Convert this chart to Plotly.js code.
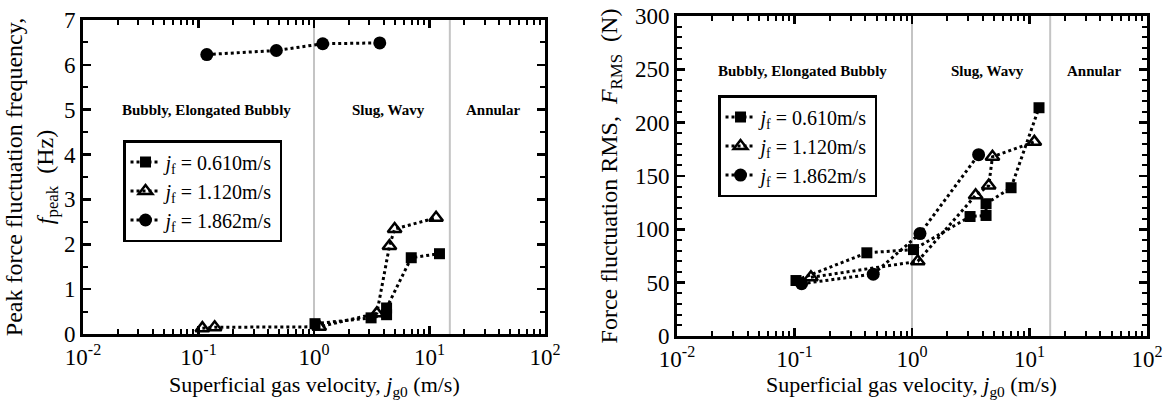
<!DOCTYPE html>
<html>
<head>
<meta charset="utf-8">
<script src="https://cdn.plot.ly/plotly-3.0.1.min.js"></script>
<style>html,body{margin:0;padding:0;background:#fff;}#chart{width:1166px;height:400px;}</style>
</head>
<body>
<div id="chart"></div>
<script>
// ---- data: left panel (peak frequency, Hz) ----
const freqSq_x = [1.02, 3.12, 4.25, 4.25, 6.95, 12.2];
const freqSq_y = [0.23, 0.36, 0.43, 0.58, 1.70, 1.79];
const freqTri_x = [0.108, 0.138, 1.11, 3.5, 4.5, 4.99, 11.4];
const freqTri_y = [0.13, 0.15, 0.16, 0.46, 1.96, 2.34, 2.59];
const freqCir_x = [0.118, 0.472, 1.19, 3.71];
const freqCir_y = [6.23, 6.32, 6.47, 6.49];
// ---- data: right panel (force RMS, N) ----
const rmsSq_x = [0.103, 0.413, 1.03, 3.12, 4.27, 4.27, 6.97, 12.05];
const rmsSq_y = [52, 78, 81, 112, 113, 124, 139, 214];
const rmsTri_x = [0.138, 1.12, 3.48, 4.5, 4.84, 11.0];
const rmsTri_y = [55, 70, 132, 141, 168, 182];
const rmsCir_x = [0.115, 0.468, 1.17, 3.69];
const rmsCir_y = [49, 58, 96, 170];
// ---- labels ----
const seriesNames = ['<i>j</i><sub>f</sub> = 0.610m/s', '<i>j</i><sub>f</sub> = 1.120m/s', '<i>j</i><sub>f</sub> = 1.862m/s'];
const xTickVals = [0.01, 0.1, 1, 10, 100];
const xTickText = ['10<sup>-2</sup>', '10<sup>-1</sup>', '10<sup>0</sup>', '10<sup>1</sup>', '10<sup>2</sup>'];
const xTitle = 'Superficial gas velocity, <i>j</i><sub>g0</sub> (m/s)';
const regimeBounds = [1, 15];
const regimeNames = ['Bubbly, Elongated Bubbly', 'Slug, Wavy', 'Annular'];
const regimeX = [0.118, 4.4, 36];
const regimeYLeft = 5;
const regimeYRight = 248;

const FONT = '"Liberation Serif", "Times New Roman", serif';
const lineStyle = {color: 'black', width: 3, dash: 'dot'};
const markerStyles = [
  {symbol: 'square', size: 11, color: 'black'},
  {symbol: 'triangle-up-open', size: 12, color: 'black', line: {color: 'black', width: 2.5}},
  {symbol: 'circle', size: 13, color: 'black'}
];

function mk(x, y, i, xa, ya, leg) {
  return {x: x, y: y, type: 'scatter', mode: 'lines+markers', name: seriesNames[i],
    xaxis: xa, yaxis: ya, legend: leg, line: lineStyle, marker: markerStyles[i], cliponaxis: false};
}

const traces = [
  mk(freqSq_x, freqSq_y, 0, 'x', 'y', 'legend'),
  mk(freqTri_x, freqTri_y, 1, 'x', 'y', 'legend'),
  mk(freqCir_x, freqCir_y, 2, 'x', 'y', 'legend'),
  mk(rmsSq_x, rmsSq_y, 0, 'x2', 'y2', 'legend2'),
  mk(rmsTri_x, rmsTri_y, 1, 'x2', 'y2', 'legend2'),
  mk(rmsCir_x, rmsCir_y, 2, 'x2', 'y2', 'legend2')
];

const axBase = {
  showline: true, linewidth: 3, linecolor: 'black', mirror: 'ticks',
  ticks: 'inside', ticklen: 8, tickwidth: 2.5, tickcolor: 'black',
  showgrid: false, zeroline: false, automargin: false,
  tickfont: {family: FONT, size: 23, color: 'black'}
};
function xax(domain, anchor) {
  return Object.assign({}, axBase, {
    type: 'log', range: [-2, 2], domain: domain, anchor: anchor,
    tickmode: 'array', tickvals: xTickVals, ticktext: xTickText, ticklabelstandoff: 0,
    minor: {dtick: 'D1', ticks: 'inside', ticklen: 5, tickwidth: 2, tickcolor: 'black'}
  });
}

const shapes = [];
[['x', 'y'], ['x2', 'y2']].forEach(function(p) {
  regimeBounds.forEach(function(b) {
    shapes.push({type: 'line', xref: p[0], yref: p[1] + ' domain', x0: b, x1: b, y0: 0, y1: 1,
      line: {color: '#c4c4c4', width: 2}, layer: 'below'});
  });
});

const annotations = [];
regimeNames.forEach(function(n, i) {
  annotations.push({xref: 'x', yref: 'y', x: Math.log10(regimeX[i]), y: regimeYLeft, text: '<b>' + n + '</b>',
    showarrow: false, font: {family: FONT, size: 15, color: 'black'}});
  annotations.push({xref: 'x2', yref: 'y2', x: Math.log10(regimeX[i]), y: regimeYRight, text: '<b>' + n + '</b>',
    showarrow: false, font: {family: FONT, size: 15, color: 'black'}});
});
[0.2693, 0.782].forEach(function(cx) {
  annotations.push({xref: 'paper', yref: 'paper', x: cx, y: -0.106, xanchor: 'center', yanchor: 'top',
    text: xTitle, showarrow: false, font: {family: FONT, size: 22, color: 'black'}});
});

const legBase = {
  xanchor: 'left', yanchor: 'top', bgcolor: 'white', bordercolor: 'black', borderwidth: 2.5,
  font: {family: FONT, size: 20, color: 'black'}, itemwidth: 30, tracegroupgap: 0
};

const layout = {
  width: 1166, height: 400,
  margin: {l: 0, r: 0, t: 16, b: 64},
  paper_bgcolor: 'white', plot_bgcolor: 'white',
  showlegend: true,
  xaxis: xax([0.0712, 0.4674], 'y'),
  yaxis: Object.assign({}, axBase, {
    range: [0, 7], domain: [0.00625, 0.9875], anchor: 'x', dtick: 1,
    minor: {dtick: 0.5, ticks: 'inside', ticklen: 5, tickwidth: 2, tickcolor: 'black'},
    title: {text: 'Peak force fluctuation frequency,<br><i>f</i><sub>peak</sub>  (Hz)', font: {family: FONT, size: 24, color: 'black'}}
  }),
  xaxis2: xax([0.5806, 0.9837], 'y2'),
  yaxis2: Object.assign({}, axBase, {
    range: [0, 300], domain: [0, 1], anchor: 'x2', dtick: 50,
    minor: {dtick: 10, ticks: 'inside', ticklen: 5, tickwidth: 2, tickcolor: 'black'},
    title: {text: 'Force fluctuation RMS,  <i>F</i><sub>RMS</sub>  (N)', font: {family: FONT, size: 24, color: 'black'}}
  }),
  legend: Object.assign({}, legBase, {x: 0.1055, y: 0.6125}),
  legend2: Object.assign({}, legBase, {x: 0.6158, y: 0.753}),
  shapes: shapes,
  annotations: annotations
};

Plotly.newPlot('chart', traces, layout, {displayModeBar: false, staticPlot: true});
</script>
</body>
</html>
